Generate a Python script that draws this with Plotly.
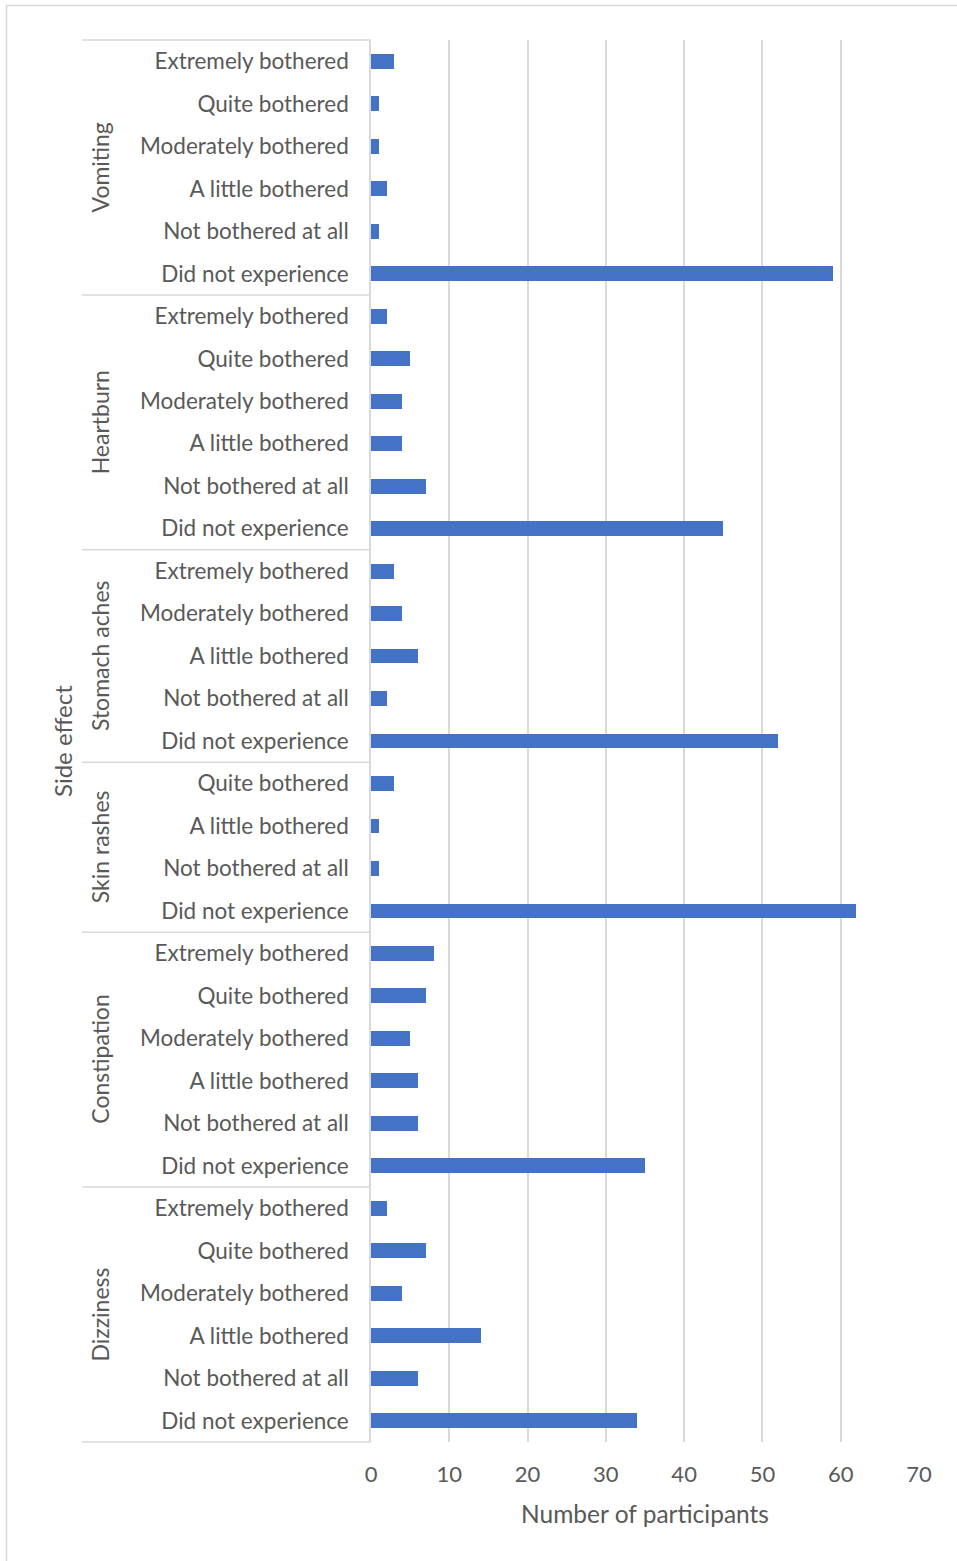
import plotly.graph_objects as go

groups = ["Vomiting", "Heartburn", "Stomach aches", "Skin rashes", "Constipation", "Dizziness"]

vomiting_labels = ["Extremely bothered", "Quite bothered", "Moderately bothered", "A little bothered", "Not bothered at all", "Did not experience"]
vomiting_values = [3, 1, 1, 2, 1, 59]

heartburn_labels = ["Extremely bothered", "Quite bothered", "Moderately bothered", "A little bothered", "Not bothered at all", "Did not experience"]
heartburn_values = [2, 5, 4, 4, 7, 45]

stomach_labels = ["Extremely bothered", "Moderately bothered", "A little bothered", "Not bothered at all", "Did not experience"]
stomach_values = [3, 4, 6, 2, 52]

skin_labels = ["Quite bothered", "A little bothered", "Not bothered at all", "Did not experience"]
skin_values = [3, 1, 1, 62]

constipation_labels = ["Extremely bothered", "Quite bothered", "Moderately bothered", "A little bothered", "Not bothered at all", "Did not experience"]
constipation_values = [8, 7, 5, 6, 6, 35]

dizziness_labels = ["Extremely bothered", "Quite bothered", "Moderately bothered", "A little bothered", "Not bothered at all", "Did not experience"]
dizziness_values = [2, 7, 4, 14, 6, 34]

x_ticks = [0, 10, 20, 30, 40, 50, 60, 70]

group_labels = [vomiting_labels, heartburn_labels, stomach_labels, skin_labels, constipation_labels, dizziness_labels]
group_values = [vomiting_values, heartburn_values, stomach_values, skin_values, constipation_values, dizziness_values]

labels = [l for g in group_labels for l in g]
values = [v for g in group_values for v in g]
n = len(labels)
idx = list(range(n))

W, H = 957, 1561
L, R, T, B = 371, 38, 40, 119
PW = W - L - R
PH = H - T - B

FONT = "Lato, Calibri, Carlito, sans-serif"
TXT = "#595959"
GRID = "#d9d9d9"

fig = go.Figure()
fig.add_trace(go.Bar(
    x=values, y=idx, orientation="h",
    marker=dict(color="#4472C4", line=dict(width=0)),
    width=0.35, hoverinfo="x+text", text=labels, textposition="none",
))


def px_to_paper_x(px):
    return (px - L) / PW


def row_to_paper_y(r):
    return 1 - r / n


shapes = []
annotations = []
cum = 0
shapes.append(dict(type="line", xref="paper", yref="paper",
                   x0=px_to_paper_x(82), x1=0, y0=1, y1=1,
                   line=dict(color=GRID, width=1.5)))
for g, gl in zip(groups, group_labels):
    start = cum
    cum += len(gl)
    shapes.append(dict(type="line", xref="paper", yref="paper",
                       x0=px_to_paper_x(82), x1=0,
                       y0=row_to_paper_y(cum), y1=row_to_paper_y(cum),
                       line=dict(color=GRID, width=1.5)))
    annotations.append(dict(
        text=g, xref="paper", yref="paper",
        x=px_to_paper_x(100), y=row_to_paper_y((start + cum) / 2),
        textangle=-90, showarrow=False, xanchor="center", yanchor="middle",
        font=dict(family=FONT, size=23, color=TXT),
    ))

annotations.append(dict(
    text="Side effect", xref="paper", yref="paper",
    x=px_to_paper_x(62), y=0.5, textangle=-90, showarrow=False,
    xanchor="center", yanchor="middle",
    font=dict(family=FONT, size=24, color=TXT),
))

shapes.append(dict(type="rect", xref="paper", yref="paper",
                   x0=px_to_paper_x(6.5), x1=px_to_paper_x(W + 10),
                   y0=-(H + 10 - T - PH) / PH, y1=1 + (T - 5.5) / PH,
                   line=dict(color=GRID, width=1.5), fillcolor="rgba(0,0,0,0)", layer="below"))

fig.update_layout(
    width=W, height=H,
    margin=dict(l=L, r=R, t=T, b=B, pad=0),
    paper_bgcolor="white", plot_bgcolor="white",
    showlegend=False,
    bargap=0,
    shapes=shapes,
    annotations=annotations,
    font=dict(family=FONT, color=TXT, size=22),
    xaxis=dict(
        range=[0, 70], tickvals=x_ticks, ticktext=[str(t) for t in x_ticks],
        showgrid=True, gridcolor=GRID, gridwidth=1.5, zeroline=False,
        showline=False, ticks="", ticklabelstandoff=17,
        tickfont=dict(family=FONT, size=22, color=TXT),
        title=dict(text="Number of participants", standoff=19,
                   font=dict(family=FONT, size=24.5, color=TXT)),
    ),
    yaxis=dict(
        range=[n - 0.5, -0.5], tickvals=idx, ticktext=labels,
        showgrid=False, zeroline=False, showline=True, linecolor=GRID, linewidth=1.5,
        ticks="", ticklabelstandoff=16,
        tickfont=dict(family=FONT, size=22.5, color=TXT),
    ),
)

fig.write_html("out.html")
